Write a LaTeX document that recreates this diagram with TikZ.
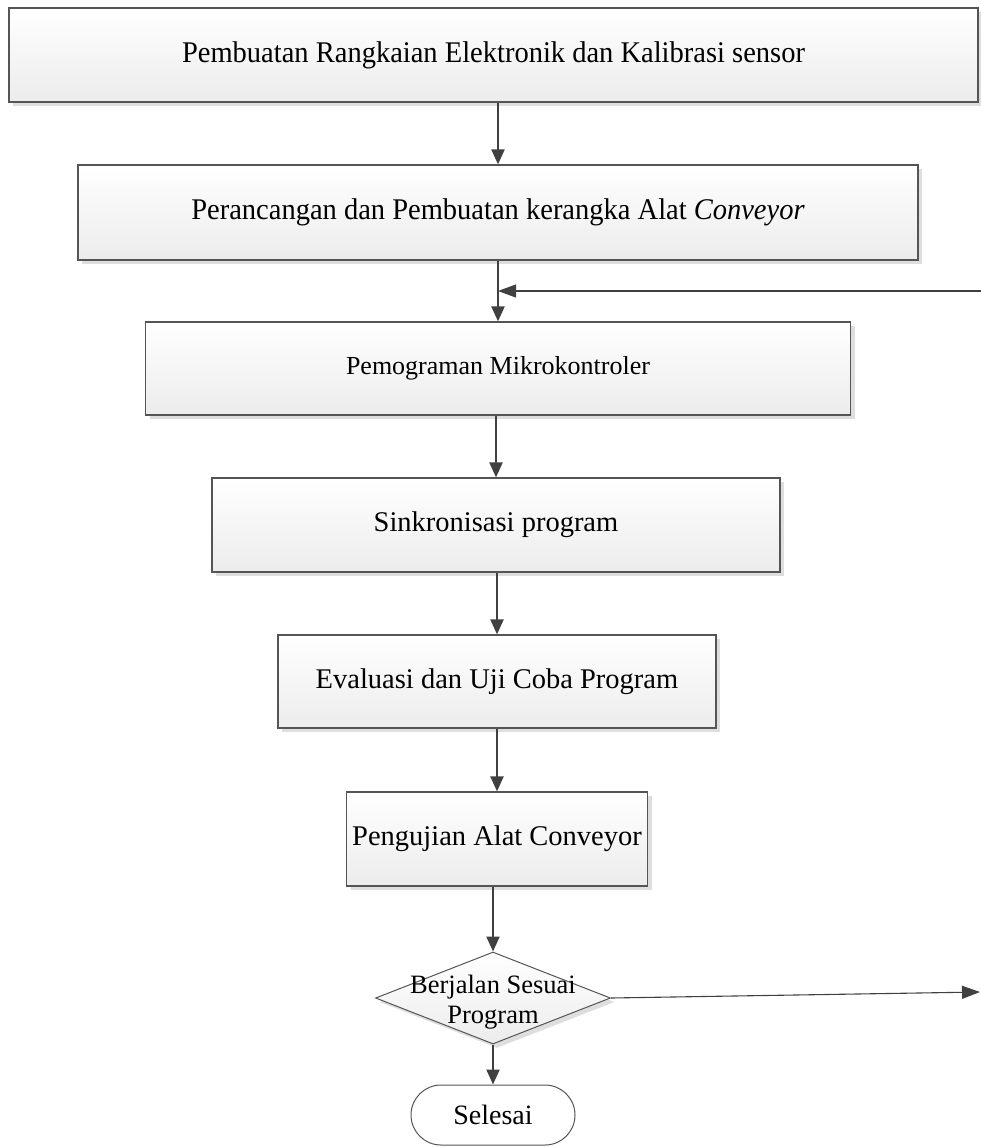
\documentclass[tikz,border=0pt]{standalone}
\usepackage{fontspec}
\setmainfont{Liberation Serif}
\newfontfamily\narrowfont{Liberation Serif}[FakeStretch=0.95]
\usetikzlibrary{arrows.meta,shapes,positioning,shadows}
\definecolor{fcline}{RGB}{85,85,85}
\definecolor{fcarrow}{RGB}{64,64,64}
\definecolor{fcshade}{RGB}{236,236,236}
\definecolor{fcshadow}{RGB}{222,222,222}
\tikzstyle{stepbox} = [rectangle, draw=fcline, line width=1.2pt, top color=white, bottom color=fcshade, drop shadow={shadow xshift=4pt, shadow yshift=-4pt, fill=fcshadow, opacity=1}, align=center, inner sep=0pt]
\tikzstyle{decision} = [diamond, draw=fcline, line width=1pt, top color=white, bottom color=fcshade, drop shadow={shadow xshift=4pt, shadow yshift=-4pt, fill=fcshadow, opacity=1}, inner sep=0pt]
\tikzstyle{terminal} = [rounded rectangle, draw=fcline, line width=1pt, fill=white, inner sep=0pt]
\tikzstyle{arrow} = [line width=2.2pt, fcarrow, -{Triangle[length=15pt,width=13pt]}]
\tikzstyle{thinarrow} = [line width=1.1pt, fcarrow, -{Triangle[length=18pt,width=13pt]}]

\begin{document}
\begin{tikzpicture}[x=1pt,y=-1pt]
\useasboundingbox (0,0) rectangle (981,1147);

% Steps
\node[stepbox, minimum width=969pt, minimum height=94pt, font=\narrowfont\fontsize{30}{34}\selectfont] (rangkaian) at (493.5,55) {Pembuatan Rangkaian Elektronik dan Kalibrasi sensor};
\node[stepbox, minimum width=840pt, minimum height=95pt, font=\narrowfont\fontsize{30}{34}\selectfont] (kerangka) at (498,212.5) {Perancangan dan Pembuatan kerangka Alat \textit{Conveyor}};
\node[stepbox, minimum width=705pt, minimum height=93pt, font=\fontsize{26}{30}\selectfont] (program) at (498,368.5) {Pemograman Mikrokontroler};
\node[stepbox, minimum width=568pt, minimum height=94pt, font=\fontsize{28.5}{32}\selectfont] (sinkron) at (496,525) {Sinkronisasi program};
\node[stepbox, minimum width=438pt, minimum height=93pt, font=\fontsize{28.5}{32}\selectfont] (evaluasi) at (497,681.5) {Evaluasi dan Uji Coba Program};
\node[stepbox, minimum width=301pt, minimum height=94pt, font=\fontsize{28.5}{32}\selectfont] (pengujian) at (497,839) {Pengujian Alat Conveyor};

% Decision and end
\node[decision, minimum width=235pt, minimum height=92pt] (cek) at (493,998) {};
\node[font=\fontsize{26.5}{30}\selectfont, align=center] (cektext) at (493,1002) {Berjalan Sesuai\\Program};
\node[terminal, minimum width=164pt, minimum height=60pt, font=\fontsize{28}{32}\selectfont] (selesai) at (493,1115) {Selesai};

% Flow
\draw[arrow] (rangkaian.south -| kerangka.north) -- (kerangka.north);
\draw[arrow] (kerangka.south) -- (program.north);
\draw[arrow] (program.south -| sinkron.north) -- (sinkron.north);
\draw[arrow] (sinkron.south -| evaluasi.north) -- (evaluasi.north);
\draw[arrow] (evaluasi.south) -- (pengujian.north);
\draw[arrow] (pengujian.south -| cek.north) -- (cek.north);
\draw[arrow] (cek.south) -- (selesai.north);

% Loop back and exit
\coordinate (ulang) at (981,291);
\draw[thinarrow] (ulang) -- (ulang -| kerangka.south);
\coordinate (keluar) at (980,992);
\draw[thinarrow] (cek.east) -- (keluar);
\end{tikzpicture}
\end{document}
